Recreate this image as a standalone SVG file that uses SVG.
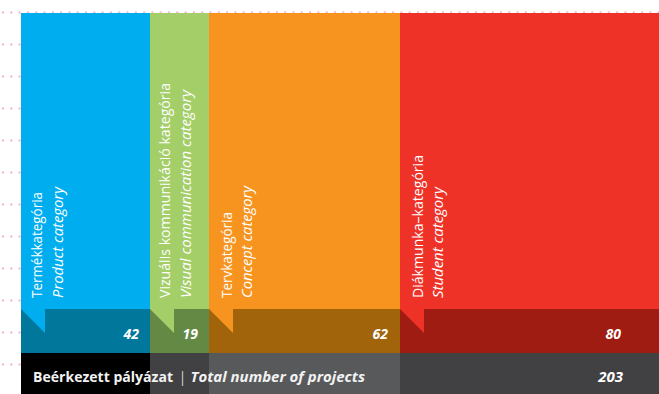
<svg xmlns="http://www.w3.org/2000/svg" width="659" height="394" viewBox="0 0 659 394">
<style>
.dots{stroke:#F6B9CF;stroke-width:2.4;stroke-linecap:round;stroke-dasharray:0 8.3;fill:none}
.lbl{font-family:"Open Sans","Liberation Sans",sans-serif;font-size:14px;fill:#FFFFFF}
.it{font-style:italic}
.num{font-family:"Open Sans","Liberation Sans",sans-serif;font-size:14px;font-weight:bold;font-style:italic;fill:#FFFFFF;text-anchor:end}
.tot{font-family:"Open Sans","Liberation Sans",sans-serif;font-size:14.8px;font-weight:bold;fill:#F2F2F2}
</style>
<rect width="659" height="394" fill="#FFFFFF"/>
<g id="grid">
<line class="dots" x1="3" y1="12.5" x2="659" y2="12.5"/>
<line class="dots" x1="3" y1="44.5" x2="21" y2="44.5"/>
<line class="dots" x1="3" y1="76.5" x2="21" y2="76.5"/>
<line class="dots" x1="3" y1="108.5" x2="21" y2="108.5"/>
<line class="dots" x1="3" y1="140.5" x2="21" y2="140.5"/>
<line class="dots" x1="3" y1="172.5" x2="21" y2="172.5"/>
<line class="dots" x1="3" y1="204.5" x2="21" y2="204.5"/>
<line class="dots" x1="3" y1="236.5" x2="21" y2="236.5"/>
<line class="dots" x1="3" y1="268.5" x2="21" y2="268.5"/>
<line class="dots" x1="3" y1="300.5" x2="21" y2="300.5"/>
<line class="dots" x1="3" y1="332.5" x2="21" y2="332.5"/>
<line class="dots" x1="3" y1="364.5" x2="21" y2="364.5"/>
</g>
<g id="product">
<rect x="21" y="13" width="129" height="296" fill="#00AEEF"/>
<rect x="21" y="309" width="129" height="44" fill="#00779B"/>
<polygon points="21,309 45,309 45,333" fill="#00AEEF"/>
<rect x="21" y="353" width="129" height="41" fill="#000000"/>
<text class="lbl" transform="translate(42,298) rotate(-90)" textLength="106" lengthAdjust="spacingAndGlyphs">Termékkategória</text>
<text class="lbl it" transform="translate(63,298) rotate(-90)" textLength="111" lengthAdjust="spacingAndGlyphs">Product category</text>
<text class="num" x="139" y="339">42</text>
</g>
<g id="visual">
<rect x="150" y="13" width="59" height="296" fill="#A3CE68"/>
<rect x="150" y="309" width="59" height="44" fill="#648944"/>
<polygon points="150,309 174,309 174,333" fill="#A3CE68"/>
<rect x="150" y="353" width="59" height="41" fill="#414042"/>
<text class="lbl" transform="translate(170,298) rotate(-90)" textLength="215" lengthAdjust="spacingAndGlyphs">Vizuális kommunikáció kategória</text>
<text class="lbl it" transform="translate(191,298) rotate(-90)" textLength="208" lengthAdjust="spacingAndGlyphs">Visual communication category</text>
<text class="num" x="198" y="339">19</text>
</g>
<g id="concept">
<rect x="209" y="13" width="191" height="296" fill="#F7941F"/>
<rect x="209" y="309" width="191" height="44" fill="#A1640B"/>
<polygon points="209,309 233,309 233,333" fill="#F7941F"/>
<rect x="209" y="353" width="191" height="41" fill="#58595B"/>
<text class="lbl" transform="translate(232,298) rotate(-90)" textLength="86" lengthAdjust="spacingAndGlyphs">Tervkategória</text>
<text class="lbl it" transform="translate(252,298) rotate(-90)" textLength="112" lengthAdjust="spacingAndGlyphs">Concept category</text>
<text class="num" x="388" y="339">62</text>
</g>
<g id="student">
<rect x="400" y="13" width="259" height="296" fill="#EF3227"/>
<rect x="400" y="309" width="259" height="44" fill="#9E1C12"/>
<polygon points="400,309 424,309 424,333" fill="#EF3227"/>
<rect x="400" y="353" width="259" height="41" fill="#414042"/>
<text class="lbl" transform="translate(423,298) rotate(-90)" textLength="143" lengthAdjust="spacingAndGlyphs">Diákmunka–kategória</text>
<text class="lbl it" transform="translate(443,298) rotate(-90)" textLength="111" lengthAdjust="spacingAndGlyphs">Student category</text>
<text class="num" x="621" y="339">80</text>
</g>
<g id="total">
<text class="tot" y="382"><tspan x="33" textLength="140" lengthAdjust="spacingAndGlyphs">Beérkezett pályázat</tspan><tspan x="179.5" font-weight="normal" textLength="6" lengthAdjust="spacingAndGlyphs">|</tspan><tspan x="190.5" font-style="italic" textLength="174.5" lengthAdjust="spacingAndGlyphs">Total number of projects</tspan></text>
<text class="num" x="623" y="382" style="font-size:15px">203</text>
</g>
<g id="connectors"></g>
</svg>
